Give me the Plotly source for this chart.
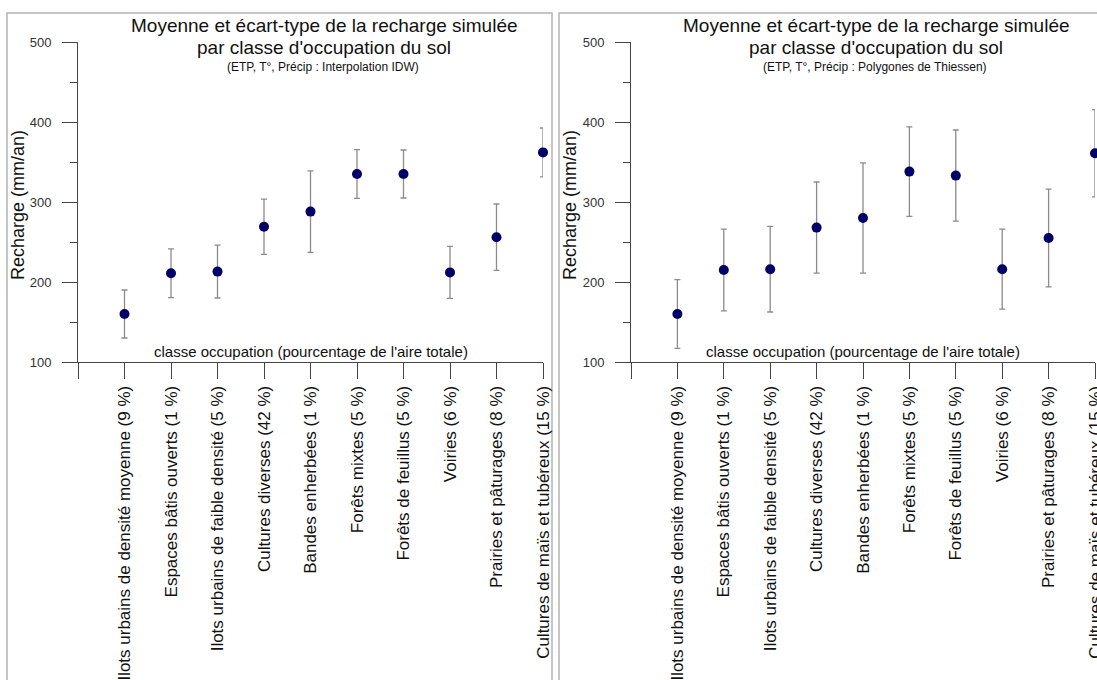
import plotly.graph_objects as go

categories = [
    "Ilots urbains de densité moyenne (9 %)",
    "Espaces bâtis ouverts (1 %)",
    "Ilots urbains de faible densité (5 %)",
    "Cultures diverses (42 %)",
    "Bandes enherbées (1 %)",
    "Forêts mixtes (5 %)",
    "Forêts de feuillus (5 %)",
    "Voiries (6 %)",
    "Prairies et pâturages (8 %)",
    "Cultures de maïs et tubéreux (15 %)",
]
mean_idw = [160, 211, 213, 269, 288, 335, 335, 212, 256, 362]
std_idw = [30, 30.5, 33, 34.5, 51, 30.5, 30, 32.5, 41.5, 30.5]
mean_thiessen = [160, 215, 216, 268, 280, 338, 333, 216, 255, 361]
std_thiessen = [43, 51, 53.5, 57, 69, 56, 57, 50, 61, 54.5]
y_ticks = [100, 200, 300, 400, 500]
title_line1 = "Moyenne et écart-type de la recharge simulée"
title_line2 = "par classe d'occupation du sol"
subtitles = ["(ETP, T°, Précip : Interpolation IDW)", "(ETP, T°, Précip : Polygones de Thiessen)"]
x_label = "classe occupation (pourcentage de l'aire totale)"
y_label = "Recharge (mm/an)"

W, H = 1097, 680
FONT = "Liberation Sans, Arial, sans-serif"


def px(x):
    return x / W


def py(y):
    return 1 - y / H


xs = list(range(1, len(categories) + 1))
fig = go.Figure()

panels = [
    (mean_idw, std_idw, "x", "y"),
    (mean_thiessen, std_thiessen, "x2", "y2"),
]

for (means, stds, xa, ya) in panels:
    fig.add_trace(go.Scatter(
        x=xs, y=means, mode="markers", xaxis=xa, yaxis=ya,
        marker=dict(color="#000066", size=10),
        error_y=dict(type="data", array=stds, visible=True, color="#8c8c8c", thickness=1.3, width=3),
        cliponaxis=False, showlegend=False,
    ))

axis_common_x = dict(
    range=[0, 10], tickvals=list(range(0, 11)), ticktext=[""] + categories,
    tickangle=-90, ticks="outside", ticklen=16, tickcolor="#444", tickwidth=1,
    showline=True, linecolor="#444", linewidth=1, showgrid=False, zeroline=False,
    tickfont=dict(family=FONT, size=17, color="#111"), fixedrange=True,
    automargin=False, ticklabeloverflow="allow",
)
axis_common_y = dict(
    range=[100, 500], tickvals=y_ticks, ticks="outside", ticklen=15, tickcolor="#444",
    showline=True, linecolor="#444", linewidth=1, showgrid=False, zeroline=False,
    tickfont=dict(family=FONT, size=13, color="#333"),
    minor=dict(ticks="outside", ticklen=7, dtick=50, tickcolor="#444", showgrid=False),
    ticklabelstandoff=8, automargin=False, fixedrange=True,
)

ydom = [py(362), py(42)]
fig.update_layout(
    template="none",
    width=W, height=H, margin=dict(l=0, r=0, t=0, b=0, autoexpand=False),
    paper_bgcolor="white", plot_bgcolor="rgba(0,0,0,0)",
    xaxis=dict(domain=[px(78), px(543)], anchor="y", **axis_common_x),
    yaxis=dict(domain=ydom, anchor="x", **axis_common_y),
    xaxis2=dict(domain=[px(631), px(1095)], anchor="y2", **axis_common_x),
    yaxis2=dict(domain=ydom, anchor="x2", **axis_common_y),
)

shapes = []
annotations = []
for i, off in enumerate([0, 552]):
    shapes.append(dict(type="rect", xref="paper", yref="paper",
                       x0=px(7 + off), x1=px(552 + off), y0=py(700), y1=py(13),
                       line=dict(color="#b4b4b4", width=1.5), layer="below"))
    annotations.append(dict(xref="paper", yref="paper", x=px(324 + off), y=py(26),
                            xanchor="center", yanchor="middle", showarrow=False,
                            text=title_line1, font=dict(family=FONT, size=19, color="#111")))
    annotations.append(dict(xref="paper", yref="paper", x=px(324 + off), y=py(48),
                            xanchor="center", yanchor="middle", showarrow=False,
                            text=title_line2, font=dict(family=FONT, size=19, color="#111")))
    annotations.append(dict(xref="paper", yref="paper", x=px(323 + off), y=py(67),
                            xanchor="center", yanchor="middle", showarrow=False,
                            text=subtitles[i], font=dict(family=FONT, size=12, color="#111")))
    annotations.append(dict(xref="paper", yref="paper", x=px(311 + off), y=py(362),
                            xanchor="center", yanchor="bottom", showarrow=False,
                            text=x_label, font=dict(family=FONT, size=15, color="#111")))
    annotations.append(dict(xref="paper", yref="paper", x=px(18 + off), y=py(205),
                            xanchor="center", yanchor="middle", showarrow=False, textangle=-90,
                            text=y_label, font=dict(family=FONT, size=18, color="#111")))

fig.update_layout(shapes=shapes, annotations=annotations)
fig.write_html("out.html")
